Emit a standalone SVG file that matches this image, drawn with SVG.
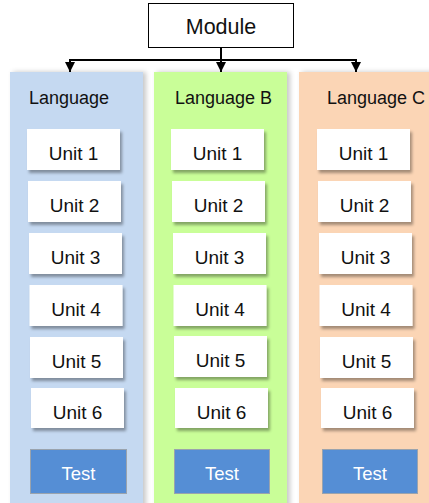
<svg xmlns="http://www.w3.org/2000/svg" width="429" height="503" viewBox="0 0 429 503">
<style>
text{font-family:"Liberation Sans",Arial,sans-serif;fill:#111;text-anchor:middle}
.lang{font-size:18px}
.unit rect{fill:#fff;filter:url(#us)}
.unit text{font-size:19px}
.test rect{fill:#558ed5;stroke:#9aa3ad;stroke-width:1}
.test text{font-size:18.5px;fill:#fff}
.col{filter:url(#cs)}
.conn path{fill:none;stroke:#000;stroke-width:2}
</style>
<defs>
<filter id="cs" x="-10%" y="-5%" width="125%" height="115%">
<feDropShadow dx="3" dy="0" stdDeviation="2.5" flood-color="#000" flood-opacity="0.22"/>
</filter>
<filter id="us" x="-10%" y="-20%" width="125%" height="150%">
<feDropShadow dx="2" dy="3" stdDeviation="1.5" flood-color="#000" flood-opacity="0.35"/>
</filter>
<marker id="ah" viewBox="0 0 10 10" refX="10" refY="5" markerWidth="5" markerHeight="5" orient="auto" markerUnits="strokeWidth">
<path d="M0,0 L10,5 L0,10 z" fill="#000"/>
</marker>
</defs>
<rect width="429" height="503" fill="#fff"/>

<g id="colA">
<rect class="col" x="10" y="72" width="133" height="440" fill="#c5d9f1"/>
<text class="lang" x="69" y="104">Language</text>
</g>
<g id="colB">
<rect class="col" x="154" y="72" width="133" height="440" fill="#c9fe98"/>
<text class="lang" x="223.5" y="104">Language B</text>
</g>
<g id="colC">
<rect class="col" x="299" y="72" width="140" height="440" fill="#fbd5b5"/>
<text class="lang" x="376" y="104">Language C</text>
</g>

<g id="module">
<rect x="148.5" y="3.5" width="145" height="44" fill="#fff" stroke="#000" stroke-width="1"/>
<text x="221" y="34" font-size="21.5">Module</text>
</g>

<g class="conn" id="connectors">
<path d="M221,47 V72" marker-end="url(#ah)"/>
<path d="M70,60 H356"/>
<path d="M70,59 V72" marker-end="url(#ah)"/>
<path d="M356,59 V72" marker-end="url(#ah)"/>
</g>

<g id="A1" class="unit"><rect x="27" y="129" width="93" height="41"/><text x="73.5" y="160">Unit 1</text></g>
<g id="A2" class="unit"><rect x="28" y="181" width="93" height="41"/><text x="74.5" y="212">Unit 2</text></g>
<g id="A3" class="unit"><rect x="29" y="233" width="93" height="41"/><text x="75.5" y="264">Unit 3</text></g>
<g id="A4" class="unit"><rect x="29.5" y="285" width="93" height="41"/><text x="76" y="316">Unit 4</text></g>
<g id="A5" class="unit"><rect x="30" y="337" width="93" height="41"/><text x="76.5" y="368">Unit 5</text></g>
<g id="A6" class="unit"><rect x="31" y="388" width="93" height="40"/><text x="77.5" y="419">Unit 6</text></g>
<g id="AT" class="test"><rect x="30.5" y="449.5" width="96" height="44"/><text x="78.5" y="480">Test</text></g>

<g id="B1" class="unit"><rect x="171" y="129" width="93" height="41"/><text x="217.5" y="160">Unit 1</text></g>
<g id="B2" class="unit"><rect x="172" y="181" width="93" height="41"/><text x="218.5" y="212">Unit 2</text></g>
<g id="B3" class="unit"><rect x="173" y="233" width="93" height="41"/><text x="219.5" y="264">Unit 3</text></g>
<g id="B4" class="unit"><rect x="173.5" y="285" width="93" height="41"/><text x="220" y="316">Unit 4</text></g>
<g id="B5" class="unit"><rect x="174" y="336" width="93" height="41"/><text x="220.5" y="367">Unit 5</text></g>
<g id="B6" class="unit"><rect x="175" y="388" width="93" height="40"/><text x="221.5" y="419">Unit 6</text></g>
<g id="BT" class="test"><rect x="174.5" y="449.5" width="95" height="44"/><text x="222" y="480">Test</text></g>

<g id="C1" class="unit"><rect x="317" y="129" width="93" height="41"/><text x="363.5" y="160">Unit 1</text></g>
<g id="C2" class="unit"><rect x="318" y="181" width="93" height="41"/><text x="364.5" y="212">Unit 2</text></g>
<g id="C3" class="unit"><rect x="319" y="233" width="93" height="41"/><text x="365.5" y="264">Unit 3</text></g>
<g id="C4" class="unit"><rect x="319.5" y="285" width="93" height="41"/><text x="366" y="316">Unit 4</text></g>
<g id="C5" class="unit"><rect x="320" y="337" width="93" height="41"/><text x="366.5" y="368">Unit 5</text></g>
<g id="C6" class="unit"><rect x="321" y="388" width="93" height="40"/><text x="367.5" y="419">Unit 6</text></g>
<g id="CT" class="test"><rect x="322.5" y="449.5" width="95" height="44"/><text x="370" y="480">Test</text></g>
</svg>
